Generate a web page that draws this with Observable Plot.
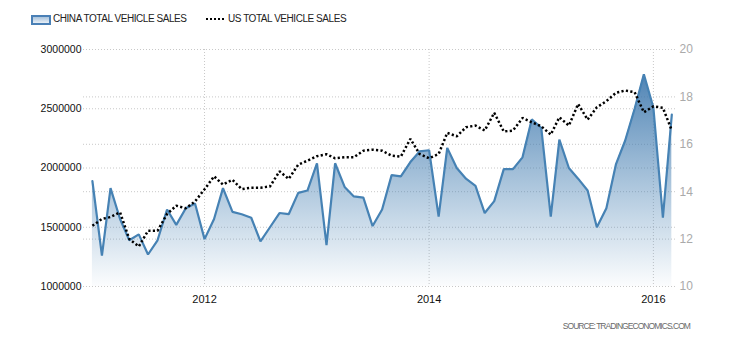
<!DOCTYPE html>
<html><head><meta charset="utf-8">
<script src="https://cdn.jsdelivr.net/npm/d3@7"></script>
<script src="https://cdn.jsdelivr.net/npm/@observablehq/plot@0.6"></script>
<style>
body{margin:0;background:#fff;font-family:"Liberation Sans",Arial,sans-serif;}
#wrap{position:relative;width:730px;height:340px;overflow:hidden;}
#chart{position:absolute;left:0;top:0;}
.leg{position:absolute;top:13px;font-size:10px;line-height:12px;letter-spacing:-0.45px;color:#222;white-space:nowrap;}
.sw1{position:absolute;left:31px;top:15px;width:16px;height:6px;border:2px solid #4a80b6;background:linear-gradient(to bottom,#a9c3dc,#e8eff7);}
.sw2{position:absolute;left:206px;top:18px;width:18px;height:0;border-top:2.5px dotted #000;}
#src{position:absolute;right:40px;top:321px;font-size:8.5px;letter-spacing:-0.95px;color:#6a6a6a;white-space:nowrap;}
</style></head>
<body><div id="wrap">
<div id="chart"></div>
<div class="sw1"></div><div class="leg" style="left:53px">CHINA TOTAL VEHICLE SALES</div>
<div class="sw2"></div><div class="leg" style="left:228px">US TOTAL VEHICLE SALES</div>
<div id="src">SOURCE: TRADINGECONOMICS.COM</div>
</div>
<script>
const months = [
 "2011-01","2011-02","2011-03","2011-04","2011-05","2011-06","2011-07","2011-08","2011-09","2011-10","2011-11","2011-12",
 "2012-01","2012-02","2012-03","2012-04","2012-05","2012-06","2012-07","2012-08","2012-09","2012-10","2012-11","2012-12",
 "2013-01","2013-02","2013-03","2013-04","2013-05","2013-06","2013-07","2013-08","2013-09","2013-10","2013-11","2013-12",
 "2014-01","2014-02","2014-03","2014-04","2014-05","2014-06","2014-07","2014-08","2014-09","2014-10","2014-11","2014-12",
 "2015-01","2015-02","2015-03","2015-04","2015-05","2015-06","2015-07","2015-08","2015-09","2015-10","2015-11","2015-12",
 "2016-01","2016-02","2016-03"];
// China total vehicle sales (units)
const chinaSales = [
 1890000,1260000,1830000,1570000,1390000,1440000,1270000,1390000,1650000,1520000,1660000,1700000,
 1400000,1570000,1830000,1630000,1610000,1580000,1380000,1500000,1620000,1610000,1790000,1810000,
 2040000,1350000,2040000,1840000,1760000,1750000,1510000,1650000,1940000,1930000,2050000,2140000,
 2150000,1590000,2170000,2000000,1910000,1850000,1620000,1720000,1990000,1990000,2090000,2410000,
 2340000,1590000,2240000,2000000,1910000,1810000,1500000,1660000,2030000,2230000,2500000,2790000,
 2510000,1580000,2450000];
// US total vehicle sales (millions, annualised)
const usSales = [
 12.56,12.85,12.93,13.13,12.0,11.69,12.35,12.35,13.06,13.41,13.3,13.59,
 14.1,14.65,14.3,14.5,14.11,14.17,14.17,14.22,14.86,14.54,15.14,15.31,
 15.5,15.58,15.41,15.45,15.45,15.73,15.77,15.73,15.52,15.48,16.23,15.59,
 15.41,15.59,16.48,16.34,16.72,16.79,16.58,17.33,16.54,16.58,17.11,16.93,
 16.76,16.41,17.14,16.79,17.7,17.04,17.56,17.82,18.17,18.27,18.2,17.35,
 17.6,17.54,16.58];
const leftTicks = [1000000,1500000,2000000,2500000,3000000];
const rightTicks = [10,12,14,16,18,20];
const yearTicks = ["2012","2014","2016"];
const xDomain = ["2010-12-03","2016-03-13"];

// map right axis (10..20) onto left axis (1M..3M)
const toLeft = v => 1000000 + (v - 10) * 200000;
const parse = d3.utcParse("%Y-%m");
const china = months.map((m,i) => ({date: parse(m), value: chinaSales[i]}));
const us = months.map((m,i) => ({date: parse(m), value: toLeft(usSales[i])}));
const years = yearTicks.map(y => d3.utcParse("%Y")(y));
const grid = {stroke:"#c8c8c8", strokeDasharray:"1,2", strokeWidth:1};

const svg = Plot.plot({
  width: 730, height: 340,
  marginTop: 49, marginBottom: 54, marginLeft: 83, marginRight: 55,
  style: {fontFamily: "'Liberation Sans', Arial, sans-serif", background: "transparent", overflow: "visible"},
  x: {type: "utc", domain: xDomain.map(d => new Date(d)), ticks: years, tickFormat: d3.utcFormat("%Y"), tickSize: 0, tickPadding: 9, label: null},
  y: {domain: [1000000, 3000000], ticks: leftTicks, tickFormat: d3.format("d"), tickSize: 0, tickPadding: 2, label: null},
  marks: [
    Plot.ruleX(years, {...grid}),
    Plot.ruleY(leftTicks, {...grid}),
    Plot.ruleY(rightTicks.map(toLeft), {...grid}),
    Plot.areaY(china, {x: "date", y1: 1000000, y2: "value", fill: "url(#chinaFill)"}),
    Plot.line(china, {x: "date", y: "value", stroke: "#4682b4", strokeWidth: 2.2, strokeLinejoin: "miter"}),
    Plot.line(us, {x: "date", y: "value", stroke: "#000", strokeWidth: 2.5, strokeDasharray: "2.2,2.3", strokeLinecap: "butt", strokeLinejoin: "miter"}),
    Plot.text(rightTicks, {y: d => toLeft(d), text: d => String(d), frameAnchor: "right", textAnchor: "start", dx: 4, fill: "#aaa", fontSize: 12})
  ]
});
const yS = svg.scale("y");
const defs = d3.select(svg).insert("defs", ":first-child");
const lg = defs.append("linearGradient").attr("id", "chinaFill")
  .attr("gradientUnits", "userSpaceOnUse").attr("x1", 0).attr("x2", 0)
  .attr("y1", yS.apply(3000000)).attr("y2", yS.apply(1000000));
lg.append("stop").attr("offset", "0").attr("stop-color", "#3a74ab").attr("stop-opacity", 1);
lg.append("stop").attr("offset", "1").attr("stop-color", "#4682b4").attr("stop-opacity", 0.02);
d3.select(svg).selectAll("g[aria-label='y-axis tick label'] text, g[aria-label='y-axis'] text").attr("font-size", 10.5).attr("fill", "#111");
d3.select(svg).selectAll("g[aria-label='x-axis tick label'] text, g[aria-label='x-axis'] text").attr("font-size", 11).attr("fill", "#111");
document.getElementById("chart").appendChild(svg);
</script>
</body></html>
